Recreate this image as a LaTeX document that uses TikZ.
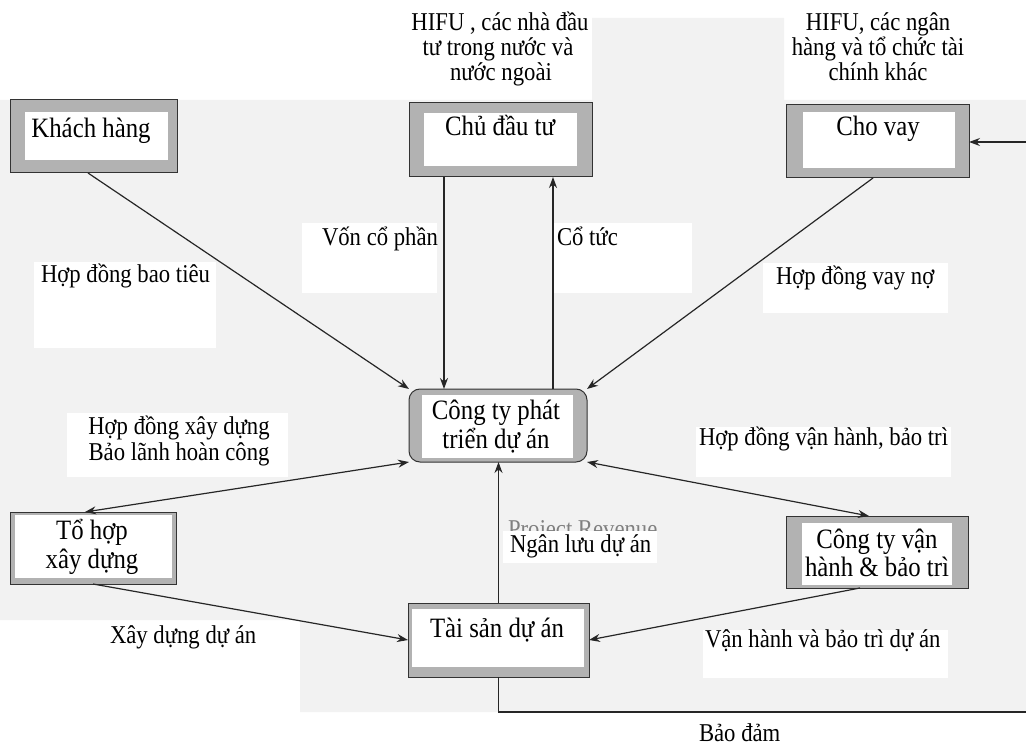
\documentclass[tikz,border=0pt]{standalone}
\usepackage{fontspec}
\usepackage{graphicx}
\setmainfont{Liberation Serif}
\usetikzlibrary{arrows.meta,fit}
\newcommand\vstr[1]{\scalebox{1}[1.13]{#1}}
\begin{document}
\begin{tikzpicture}[x=1pt,y=-1pt,
  every node/.style={font=\fontsize{22.7}{27}\selectfont, inner sep=0pt, outer sep=0pt},
  framebox/.style={draw=black!80, line width=1pt, fill=black!30, inner sep=0pt},
  lbl/.style={anchor=base},
  boxtxt/.style={anchor=base, font=\fontsize{24.8}{29}\selectfont},
  lblw/.style={anchor=base west},
  conn/.style={draw=black!85, line width=1.2pt},
  tip/.style={-{Stealth[length=11pt,width=8pt]}},
  tips/.style={{Stealth[length=11pt,width=8pt]}-{Stealth[length=11pt,width=8pt]}}
]
\useasboundingbox (0,0) rectangle (1026,746);
% scanned background
\fill[black!5] (0,100) -- (592,100) -- (592,18) -- (784,18) -- (784,100) -- (1026,100)
  -- (1026,712) -- (300,712) -- (300,620) -- (0,620) -- cycle;
% white label backgrounds
\fill[white] (34,262) rectangle (216,348);
\fill[white] (302,223) rectangle (437,293);
\fill[white] (554,223) rectangle (692,293);
\fill[white] (763,263) rectangle (948,313);
\fill[white] (67,413) rectangle (288,477);
\fill[white] (696,427) rectangle (951,477);
\fill[white] (703,630) rectangle (948,678);

% boxes
\node[framebox, fit={(10,100) (177,173)}] (kh) {};
\fill[white] (25,112) rectangle (168,160);
\node[framebox, fit={(409,103) (592,177)}] (cd) {};
\fill[white] (424,113) rectangle (577,166);
\node[framebox, fit={(786,105) (969,178)}] (cv) {};
\fill[white] (803,112) rectangle (955,168);
\node[framebox, rounded corners=11pt, fit={(409,389) (587,462)}] (cp) {};
\fill[white] (422,395) rectangle (573,458);
\node[framebox, fit={(10,512) (176,584)}] (th) {};
\fill[white] (15,515) rectangle (172,578);
\node[framebox, fit={(786,516) (968,588)}] (vh) {};
\fill[white] (802,523) rectangle (952,585);
\node[framebox, fit={(408,603) (589,677)}] (ts) {};
\fill[white] (412,609) rectangle (584,667);

% box texts
\node[boxtxt] (khT) at (91,138) {\vstr{Khách hàng}};
\node[boxtxt] (cdT) at (500,136) {\vstr{Chủ đầu tư}};
\node[boxtxt] (cvT) at (878,136) {\vstr{Cho vay}};
\node[boxtxt] (cpT1) at (496,419) {\vstr{Công ty phát}};
\node[boxtxt] (cpT2) at (496,448) {\vstr{triển dự án}};
\node[boxtxt] (thT1) at (92,539) {\vstr{Tổ hợp}};
\node[boxtxt] (thT2) at (92,568) {\vstr{xây dựng}};
\node[boxtxt] (vhT1) at (877,548) {\vstr{Công ty vận}};
\node[boxtxt] (vhT2) at (877,576) {\vstr{hành \& bảo trì}};
\node[boxtxt] (tsT) at (497,637) {\vstr{Tài sản dự án}};

% top texts
\node[lbl] (hA1) at (500,31) {\vstr{HIFU , các nhà đầu}};
\node[lbl] (hA2) at (498,56) {\vstr{tư trong nước và}};
\node[lbl] (hA3) at (501,81) {\vstr{nước ngoài}};
\node[lbl] (hB1) at (878,31) {\vstr{HIFU, các ngân}};
\node[lbl] (hB2) at (878,56) {\vstr{hàng và tổ chức tài}};
\node[lbl] (hB3) at (878,81) {\vstr{chính khác}};

% edge labels
\node[lblw] (l1) at (41,283) {\vstr{Hợp đồng bao tiêu}};
\node[lblw] (l2) at (322,246) {\vstr{Vốn cổ phần}};
\node[lblw] (l3) at (557,246) {\vstr{Cổ tức}};
\node[lblw] (l4) at (776,284) {\vstr{Hợp đồng vay nợ}};
\node[lbl] (l5a) at (179,434) {\vstr{Hợp đồng xây dựng}};
\node[lbl] (l5b) at (179,460) {\vstr{Bảo lãnh hoàn công}};
\node[lblw] (l6) at (699,445) {\vstr{Hợp đồng vận hành, bảo trì}};
\node[lblw, text=black!50] (l7) at (508,537) {\vstr{Project Revenue}};
\fill[white] (503,531) rectangle (657,563);
\node[lblw] (l8) at (510,552) {\vstr{Ngân lưu dự án}};
\node[lblw] (l9) at (110,643) {\vstr{Xây dựng dự án}};
\node[lblw] (l10) at (705,647) {\vstr{Vận hành và bảo trì dự án}};
\node[lblw] (l11) at (699,741) {\vstr{Bảo đảm}};

% connectors
\draw[conn,tip] ([xshift=-5.5pt]kh.south) -- (cp.north west);
\draw[conn,tip] ([xshift=-56.5pt]cd.south) -- ([xshift=-56.5pt]cd.south |- cp.north);
\draw[conn,tip] ([xshift=55pt]cp.north) -- ([xshift=55pt]cp.north |- cd.south);
\draw[conn,tip] ([xshift=-4.5pt]cv.south) -- (cp.north east);
\draw[conn,tips] (cp.south west) -- ([xshift=-8pt]th.north);
\draw[conn,tips] (cp.south east) -- ([xshift=-8pt]vh.north);
\draw[conn,tip] (ts.north) -- (ts.north |- cp.south);
\draw[conn,tip] (th.south) -- (ts.west);
\draw[conn,tip] ([xshift=-17pt]vh.south) -- (ts.east);
\coordinate (bl) at (1028,712);
\coordinate (tr) at (1028,142);
\draw[conn,tip] (ts.south) |- (bl) -- (tr) -- (cv.east |- tr);
\end{tikzpicture}
\end{document}
